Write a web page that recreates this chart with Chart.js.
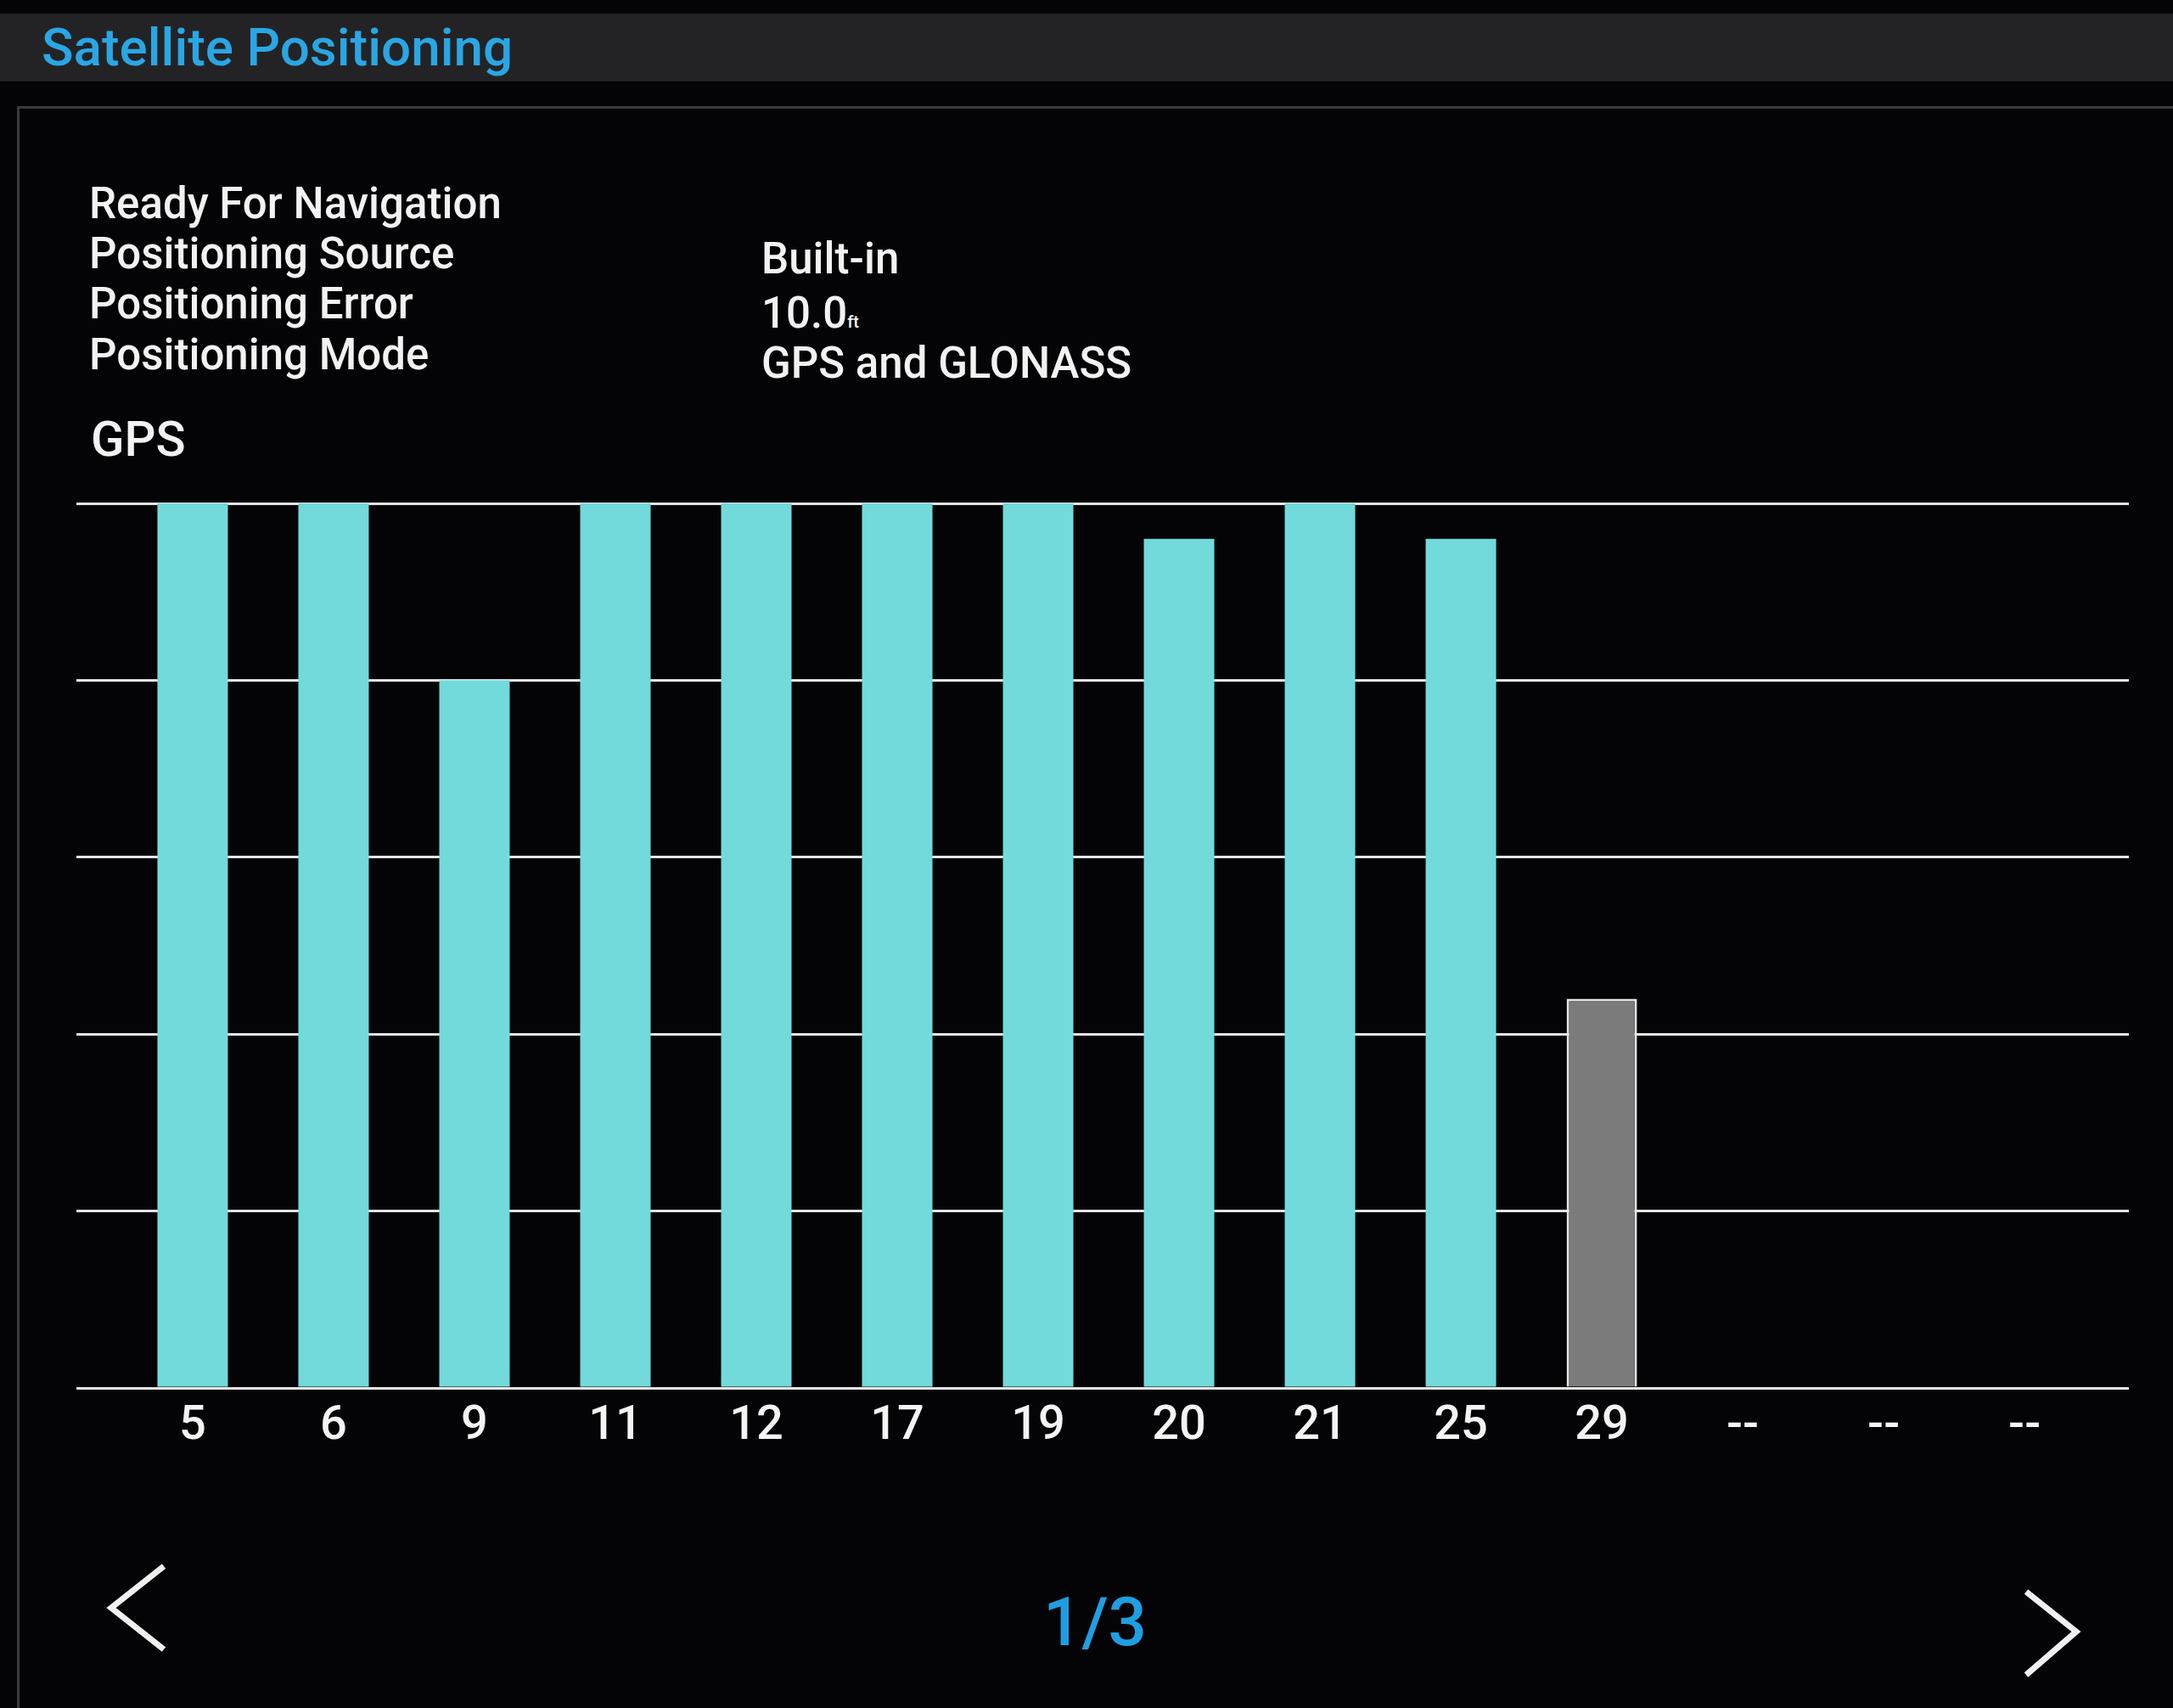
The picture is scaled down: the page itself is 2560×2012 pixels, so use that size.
<!DOCTYPE html>
<html>
<head>
<meta charset="utf-8">
<script src="https://cdn.jsdelivr.net/npm/chart.js@4.4.1/dist/chart.umd.min.js"></script>
<style>
    html, body { margin: 0; padding: 0; }
    body {
        width: 2560px; height: 2012px; overflow: hidden;
        background: #040406; position: relative;
        font-family: Roboto, "Noto Sans", sans-serif; color: #f2f2f2;
    }
    .header { position: absolute; left: 0; top: 16px; width: 2560px; height: 80px; background: #232325; }
    .panel { position: absolute; left: 20px; top: 125px; width: 2540px; height: 1887px;
             border-top: 3px solid #3a3a3c; border-left: 3px solid #3a3a3c; }
    .txt { position: absolute; white-space: nowrap; line-height: 1; font-weight: 500; }
    .title { left: 49px; top: 25px; font-size: 62px; color: #2aa6e4; }
    .info { font-size: 51px; }
    .unit { font-size: 20px; }
    .gps { left: 107px; top: 488px; font-size: 58px; }
    .page { left: 1290px; top: 1871px; font-size: 80px; color: #1f9ee2; transform: translateX(-50%); }
    #chart { position: absolute; left: 0; top: 0; }
    svg { position: absolute; left: 0; top: 0; }
</style>
</head>
<body>
<div class="header"></div>
<div class="panel"></div>
<div class="txt title">Satellite Positioning</div>

<div class="txt info" style="left:105px; top:214px;">Ready For Navigation</div>
<div class="txt info" style="left:105px; top:273px;">Positioning Source</div>
<div class="txt info" style="left:105px; top:332px;">Positioning Error</div>
<div class="txt info" style="left:105px; top:392px;">Positioning Mode</div>
<div class="txt info" style="left:897px; top:279px;">Built-in</div>
<div class="txt info" style="left:897px; top:343px;">10.0<span class="unit">ft</span></div>
<div class="txt info" style="left:897px; top:402px;">GPS and GLONASS</div>

<div class="txt gps">GPS</div>

<canvas id="chart" width="2560" height="2012"></canvas>

<svg width="2560" height="2012">
    <polyline points="193,1845 131,1894 193,1943" fill="none" stroke="#f0f0f0" stroke-width="7" />
    <polyline points="2387,1875 2446,1922 2387,1973" fill="none" stroke="#f0f0f0" stroke-width="7" />
</svg>
<div class="txt page">1/3</div>

<script>
// satellite PRN numbers shown on this page, empty slots are "--"
const satellites = ['5', '6', '9', '11', '12', '17', '19', '20', '21', '25', '29', '--', '--', '--'];
// signal level of each satellite
const signalLevels = [50, 50, 40, 50, 50, 50, 50, 48, 50, 48, 22, null, null, null];
// true when the satellite is used for the fix (cyan), false = tracked only (grey)
const usedInFix = [true, true, true, true, true, true, true, true, true, true, false, false, false, false];
// horizontal grid levels
const levelTicks = [0, 10, 20, 30, 40, 50];

const CYAN = '#72dadb';
const GREY = '#7b7b7b';

const barData = signalLevels.map((v, i) => ({ x: i, y: v }));

const ctx = document.getElementById('chart').getContext('2d');
window.satChart = new Chart(ctx, {
    type: 'bar',
    data: {
        datasets: [{
            label: 'GPS',
            data: barData,
            backgroundColor: usedInFix.map(u => u ? CYAN : GREY),
            borderColor: usedInFix.map(u => u ? CYAN : '#e4e4e4'),
            borderWidth: usedInFix.map(u => u ? 0 : 3),
            barPercentage: 0.5,
            categoryPercentage: 1.0
        }]
    },
    options: {
        responsive: false,
        devicePixelRatio: 1,
        animation: false,
        layout: { padding: { left: 90, right: 52, top: 593, bottom: 267 } },
        plugins: {
            legend: { display: false },
            tooltip: { enabled: false }
        },
        scales: {
            x: {
                type: 'linear',
                offset: false,
                min: -0.825,
                max: 13.74,
                grid: { display: false, offset: false },
                border: { display: false },
                ticks: {
                    stepSize: 1,
                    autoSkip: false,
                    includeBounds: false,
                    maxRotation: 0,
                    padding: 4,
                    color: '#f4f4f4',
                    font: { family: 'Roboto', size: 56, weight: '500' },
                    callback: function (value) {
                        if (!Number.isInteger(value)) return '';
                        return satellites[value] !== undefined ? satellites[value] : '';
                    }
                },
                afterFit: function (scale) { scale.height = 110; }
            },
            y: {
                min: levelTicks[0],
                max: levelTicks[levelTicks.length - 1],
                afterBuildTicks: function (scale) {
                    scale.ticks = levelTicks.map(v => ({ value: v }));
                },
                grid: { color: '#e4e4e4', lineWidth: 3, drawTicks: false },
                border: { display: false },
                ticks: { display: false },
                afterFit: function (scale) { scale.width = 0; }
            }
        }
    }
});
</script>
</body>
</html>
